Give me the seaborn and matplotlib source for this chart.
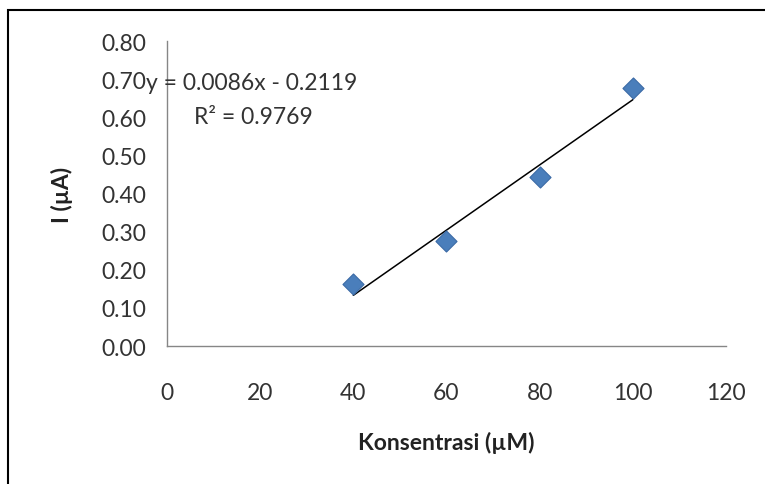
import numpy as np
import pandas as pd
import seaborn as sns
import matplotlib.pyplot as plt
from matplotlib.patches import Rectangle

sns.set_style("white")
plt.rcParams['font.family'] = ['Lato', 'DejaVu Sans']

konsentrasi = [40, 60, 80, 100]
arus = [0.163, 0.275, 0.443, 0.677]
x_ticks = [0, 20, 40, 60, 80, 100, 120]
y_ticks = [0.0, 0.1, 0.2, 0.3, 0.4, 0.5, 0.6, 0.7, 0.8]
eq_text = "y = 0.0086x - 0.2119"
r2_text = "R² = 0.9769"

df = pd.DataFrame({"Konsentrasi": konsentrasi, "I": arus})

fig = plt.figure(figsize=(7.65, 4.85), dpi=100)
ax = fig.add_axes([0.2183, 0.2845, 0.949 - 0.2183, 0.9134 - 0.2845])

sns.regplot(data=df, x="Konsentrasi", y="I", ax=ax, ci=None, truncate=True,
            marker="D",
            scatter_kws=dict(color="#4a7ebb", s=115, edgecolor="#3a6aa5", linewidths=0.8, zorder=3, alpha=1),
            line_kws=dict(color="black", lw=1.1, zorder=2))

ax.set_xlim(0, 120)
ax.set_ylim(0, 0.8)
ax.set_xticks(x_ticks)
ax.set_yticks(y_ticks)
ax.set_yticklabels([f"{v:.2f}" for v in y_ticks])
ax.tick_params(axis="both", labelsize=16.5, colors="#333333", length=5, width=1, direction="out")
ax.tick_params(axis="x", pad=21, color="#868686")
ax.tick_params(axis="y", pad=10, color="#868686")
for s in ["top", "right"]:
    ax.spines[s].set_visible(False)
for s in ["left", "bottom"]:
    ax.spines[s].set_color("#868686")
    ax.spines[s].set_linewidth(1)

ax.set_xlabel("Konsentrasi (µM)", fontsize=16.5, fontweight="bold", color="#222222", labelpad=20)
ax.set_ylabel("I (µA)", fontsize=16.5, fontweight="bold", color="#222222", labelpad=20)

ax.text(-4.5, 0.692, eq_text, fontsize=16.5, color="#333333", ha="left", va="center")
ax.text(5.8, 0.603, r2_text, fontsize=16.5, color="#333333", ha="left", va="center")

fig.patches.append(Rectangle((8 / 765, -0.01), 1.0, 1 - 11 / 485 + 0.01,
                             transform=fig.transFigure, fill=False,
                             edgecolor="black", lw=1.5, zorder=0))

fig.savefig("out.png", dpi=100, facecolor="white")
